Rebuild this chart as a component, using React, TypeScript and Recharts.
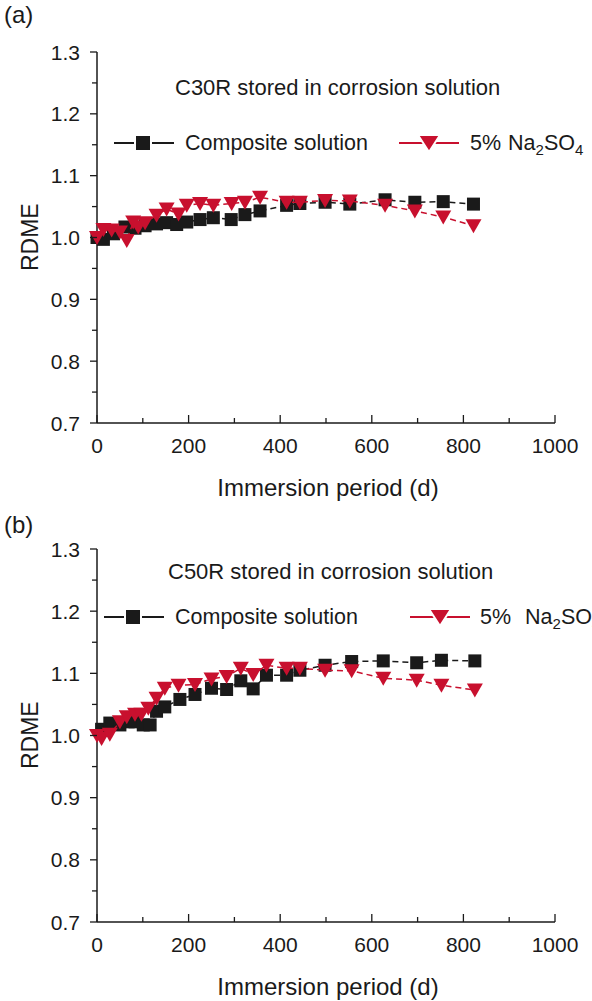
import { ScatterChart, Scatter, XAxis, YAxis } from "recharts";

const FONT = '"Liberation Sans", Arial, Helvetica, sans-serif';
const RED = "#c8102e";
const INK = "#1a1a1a";

const xTicks = [0, 100, 200, 300, 400, 500, 600, 700, 800, 900, 1000];
const yTicks = [0.7, 0.75, 0.8, 0.85, 0.9, 0.95, 1.0, 1.05, 1.1, 1.15, 1.2, 1.25, 1.3];

// (a) C30R
const compDaysA = [0, 14, 36, 61, 83, 105, 130, 152, 174, 196, 225, 254, 293, 323, 356, 414, 443, 498, 552, 629, 694, 756, 822];
const compA = [1.0, 0.997, 1.006, 1.017, 1.015, 1.019, 1.022, 1.024, 1.021, 1.025, 1.029, 1.032, 1.029, 1.037, 1.043, 1.052, 1.055, 1.057, 1.054, 1.061, 1.057, 1.058, 1.054];
const naDaysA = [0, 14, 32, 50, 65, 79, 90, 105, 130, 152, 178, 196, 225, 254, 294, 323, 356, 414, 443, 498, 552, 629, 694, 756, 822];
const naA = [1.0, 1.013, 1.012, 1.009, 0.995, 1.025, 1.017, 1.024, 1.036, 1.046, 1.038, 1.052, 1.055, 1.052, 1.055, 1.057, 1.065, 1.057, 1.057, 1.06, 1.059, 1.052, 1.043, 1.033, 1.019];

// (b) C50R
const compDaysB = [10, 28, 50, 68, 83, 101, 116, 130, 148, 181, 214, 250, 283, 314, 341, 370, 414, 443, 498, 556, 625, 698, 752, 825];
const compB = [1.01, 1.02, 1.017, 1.022, 1.022, 1.017, 1.017, 1.039, 1.046, 1.058, 1.066, 1.076, 1.074, 1.088, 1.075, 1.097, 1.097, 1.105, 1.113, 1.119, 1.12, 1.117, 1.121, 1.12];
const naDaysB = [0, 10, 28, 50, 65, 83, 97, 112, 130, 148, 178, 214, 250, 283, 314, 341, 370, 414, 443, 498, 556, 625, 698, 752, 825];
const naB = [1.0, 0.995, 1.002, 1.022, 1.03, 1.034, 1.034, 1.044, 1.06, 1.076, 1.081, 1.082, 1.091, 1.095, 1.108, 1.098, 1.113, 1.108, 1.108, 1.105, 1.104, 1.092, 1.089, 1.081, 1.073];

const zip = (days: number[], vals: number[]) => days.map((d, i) => ({ day: d, rdme: vals[i] }));

const Square = (p: any) => <rect x={p.cx - 6.5} y={p.cy - 6.5} width={13} height={13} fill={INK} />;
const Tri = (p: any) => (
  <polygon points={`${p.cx - 8},${p.cy - 6.5} ${p.cx + 8},${p.cy - 6.5} ${p.cx},${p.cy + 7.5}`} fill={RED} />
);

const XTick = (p: any) => {
  const v = p.payload.value;
  const major = v % 200 === 0;
  return (
    <g>
      <line x1={p.x} x2={p.x} y1={p.y} y2={p.y - (major ? 8 : 5)} stroke={INK} strokeWidth={1.3} />
      {major && (
        <text x={p.x} y={p.y + 30} textAnchor="middle" fontSize={21} fontFamily={FONT} fill={INK}>
          {v}
        </text>
      )}
    </g>
  );
};

const YTick = (p: any) => {
  const v = p.payload.value;
  const major = Math.round(v * 100) % 10 === 0;
  return (
    <g>
      <line x1={p.x} x2={p.x - (major ? 7 : 5)} y1={p.y} y2={p.y} stroke={INK} strokeWidth={1.3} />
      {major && (
        <text x={p.x - 17} y={p.y + 7.5} textAnchor="end" fontSize={21} fontFamily={FONT} fill={INK}>
          {v.toFixed(1)}
        </text>
      )}
    </g>
  );
};

const abs = (left: number, top: number, size: number, extra: any = {}) => ({
  position: "absolute" as const,
  left,
  top: top - size * 0.58,
  fontSize: size,
  lineHeight: 1.15,
  fontFamily: FONT,
  color: INK,
  whiteSpace: "nowrap" as const,
  ...extra,
});

function LegendMark({ kind }: { kind: "square" | "tri" }) {
  const c = kind === "square" ? INK : RED;
  return (
    <svg width={60} height={18} style={{ display: "block" }}>
      <line x1={0} x2={60} y1={9} y2={9} stroke={c} strokeWidth={2} />
      {kind === "square" ? (
        <rect x={21} y={1} width={16} height={16} fill={INK} stroke="#fff" strokeWidth={2} />
      ) : (
        <polygon points="19,1 41,1 30,18" fill={RED} stroke="#fff" strokeWidth={2} />
      )}
    </svg>
  );
}

interface PanelProps {
  top: number;
  height: number;
  plotTop: number;
  plotBottom: number;
  tag: string;
  tagY: number;
  title: string;
  titleX: number;
  titleY: number;
  legendY: number;
  legendX: number[];
  comp: { day: number; rdme: number }[];
  na: { day: number; rdme: number }[];
}

function Panel(p: PanelProps) {
  return (
    <div style={{ position: "absolute", left: 0, top: p.top, width: 592, height: p.height }}>
      <ScatterChart width={592} height={p.height} margin={{ top: p.plotTop, right: 37, bottom: 0, left: 0 }}>
        <XAxis
          type="number"
          dataKey="day"
          domain={[0, 1000]}
          ticks={xTicks}
          interval={0}
          height={p.height - p.plotBottom}
          tickSize={0}
          tickMargin={0}
          tickLine={false}
          tick={<XTick />}
          axisLine={{ stroke: INK, strokeWidth: 1.5 }}
        />
        <YAxis
          type="number"
          dataKey="rdme"
          domain={[0.7, 1.3]}
          ticks={yTicks}
          interval={0}
          width={97}
          tickSize={0}
          tickMargin={0}
          tickLine={false}
          tick={<YTick />}
          axisLine={{ stroke: INK, strokeWidth: 1.5 }}
        />
        <Scatter
          data={p.comp}
          shape={Square}
          line={{ stroke: INK, strokeWidth: 1.5, strokeDasharray: "6 4" }}
          lineType="joint"
          isAnimationActive={false}
        />
        <Scatter
          data={p.na}
          shape={Tri}
          line={{ stroke: RED, strokeWidth: 1.5, strokeDasharray: "6 4" }}
          lineType="joint"
          isAnimationActive={false}
        />
      </ScatterChart>

      <div style={abs(4, p.tagY, 24)}>{p.tag}</div>
      <div style={abs(p.titleX, p.titleY, 22)}>{p.title}</div>

      <div style={{ position: "absolute", left: p.legendX[0], top: p.legendY - 9 }}>
        <LegendMark kind="square" />
      </div>
      <div style={abs(p.legendX[1], p.legendY, 21.5)}>Composite solution</div>
      <div style={{ position: "absolute", left: p.legendX[2], top: p.legendY - 9 }}>
        <LegendMark kind="tri" />
      </div>
      <div style={abs(p.legendX[3], p.legendY, 21.5)}>
        5%<span style={{ marginLeft: p.legendX[4] }}>Na</span>
        <sub style={{ fontSize: 15 }}>2</sub>SO<sub style={{ fontSize: 15 }}>4</sub>
      </div>

      <div
        style={{
          ...abs(30, (p.plotTop + p.plotBottom) / 2, 23),
          transform: "translate(-50%, 0) rotate(-90deg)",
          transformOrigin: "50% 50%",
        }}
      >
        RDME
      </div>
      <div style={{ ...abs(328, p.plotBottom + 65, 24), transform: "translateX(-50%)" }}>Immersion period (d)</div>
    </div>
  );
}

export default function App() {
  return (
    <div
      style={{
        position: "absolute",
        left: 0,
        top: 0,
        width: 592,
        height: 1001,
        overflow: "hidden",
        background: "#fff",
      }}
    >
      <Panel
        top={0}
        height={500}
        plotTop={52}
        plotBottom={423}
        tag="(a)"
        tagY={15}
        title="C30R stored in corrosion solution"
        titleX={175}
        titleY={88}
        legendY={143}
        legendX={[114, 185, 399, 470, 7]}
        comp={zip(compDaysA, compA)}
        na={zip(naDaysA, naA)}
      />
      <Panel
        top={497}
        height={504}
        plotTop={52}
        plotBottom={425}
        tag="(b)"
        tagY={28}
        title="C50R stored in corrosion solution"
        titleX={168}
        titleY={75}
        legendY={120}
        legendX={[104, 175, 410, 480, 14]}
        comp={zip(compDaysB, compB)}
        na={zip(naDaysB, naB)}
      />
    </div>
  );
}
